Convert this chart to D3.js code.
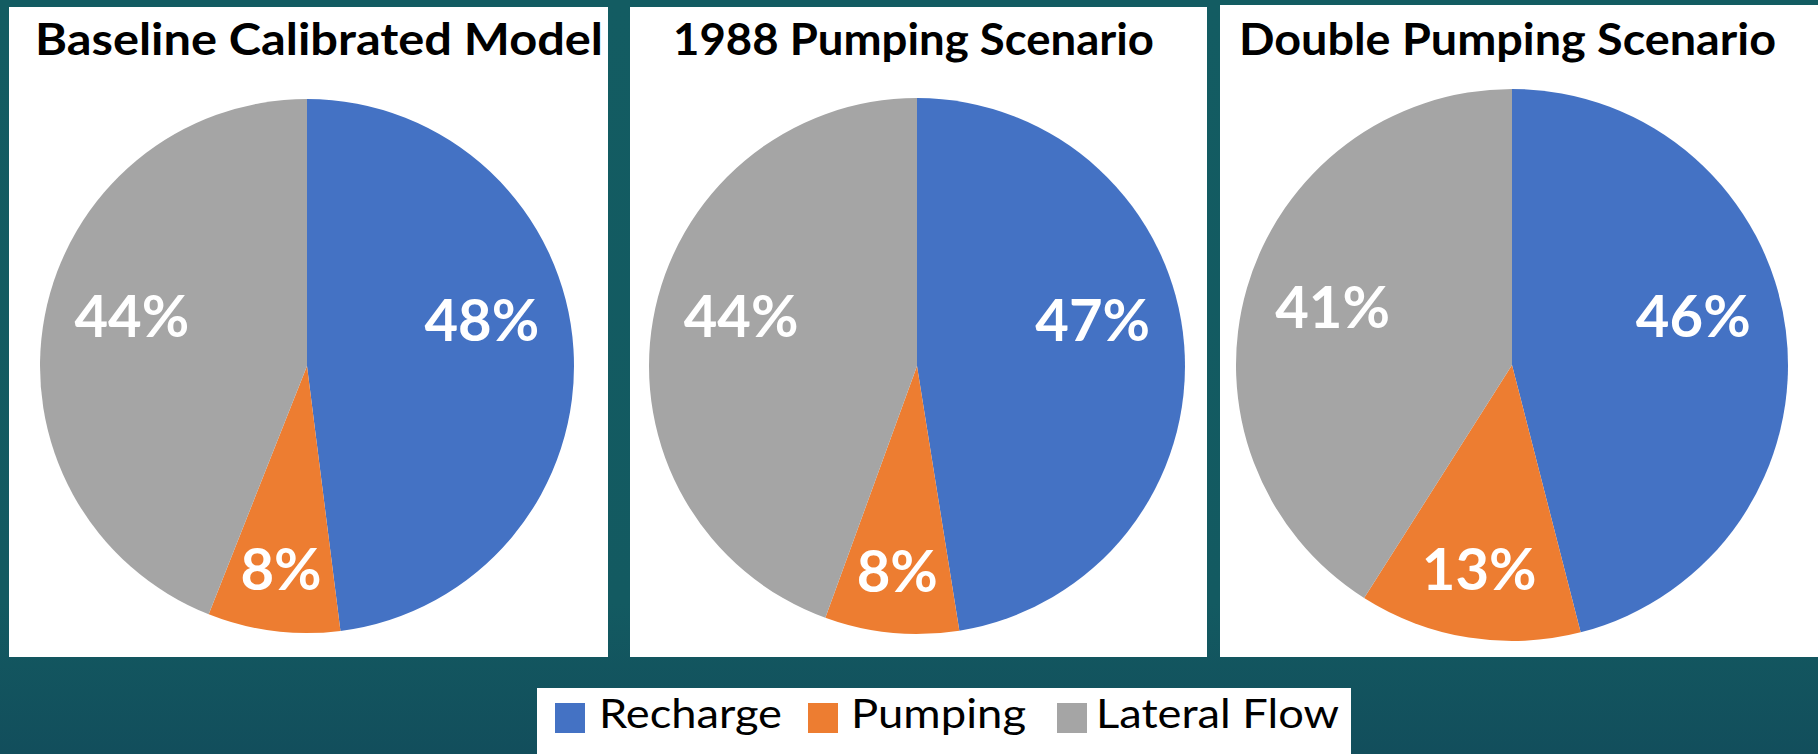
<!DOCTYPE html>
<html>
<head>
<meta charset="utf-8">
<script src="https://cdn.jsdelivr.net/npm/d3@7"></script>
<style>
  html, body { margin: 0; padding: 0; background: #135a61; }
  svg { display: block; }
</style>
</head>
<body>
<svg id="chart" width="1818" height="754"></svg>
<script>
// Water budget components, share of total (%)
const categories = ["Recharge", "Pumping", "Lateral Flow"];
const scenarios = ["Baseline Calibrated Model", "1988 Pumping Scenario", "Double Pumping Scenario"];
const baselineValues = [48, 8, 44];
const pumping1988Values = [47, 8, 44];
const doublePumpingValues = [46, 13, 41];
const seriesValues = [baselineValues, pumping1988Values, doublePumpingValues];

const colors = ["#4472c4", "#ed7d31", "#a5a5a5"];
const FONT = "Lato, 'Open Sans', sans-serif";

const svg = d3.select("#chart");
const W = 1818, H = 754;

// background: teal, slightly deeper toward the legend band
const defs = svg.append("defs");
const grad = defs.append("linearGradient").attr("id", "bg").attr("x1", 0).attr("y1", 0).attr("x2", 0).attr("y2", 1);
grad.append("stop").attr("offset", "0%").attr("stop-color", "#135c62");
grad.append("stop").attr("offset", "80%").attr("stop-color", "#135a61");
grad.append("stop").attr("offset", "100%").attr("stop-color", "#124e5c");
svg.append("rect").attr("width", W).attr("height", H).attr("fill", "url(#bg)");

// panel frames, one per scenario
const panels = [
  { x: 9,    y: 7, w: 599, h: 650, cx: 307,  cy: 366, r: 267, titleX: 35,   titleW: 568 },
  { x: 630,  y: 7, w: 577, h: 650, cx: 917,  cy: 366, r: 268, titleX: 673,  titleW: 481 },
  { x: 1220, y: 5, w: 598, h: 652, cx: 1512, cy: 365, r: 276, titleX: 1239, titleW: 537 }
];

const pie = d3.pie().sort(null).value(d => d);

panels.forEach((p, i) => {
  const g = svg.append("g");
  g.append("rect").attr("x", p.x).attr("y", p.y).attr("width", p.w).attr("height", p.h).attr("fill", "#ffffff");

  g.append("text")
    .attr("x", p.titleX).attr("y", 55)
    .attr("font-family", FONT).attr("font-weight", 700).attr("font-size", 44)
    .attr("fill", "#000")
    .attr("textLength", p.titleW).attr("lengthAdjust", "spacingAndGlyphs")
    .text(scenarios[i]);

  const values = seriesValues[i];
  const total = d3.sum(values);
  const arcs = pie(values);
  const arc = d3.arc().innerRadius(0).outerRadius(p.r);

  const pg = g.append("g").attr("transform", `translate(${p.cx},${p.cy})`);
  pg.selectAll("path.slice").data(arcs).join("path")
    .attr("class", "slice")
    .attr("d", arc)
    .attr("fill", (d, j) => colors[j]);

  // data labels: smaller slices sit further out, side labels lift toward the top
  pg.selectAll("text.lbl").data(arcs).join("text")
    .attr("class", "lbl")
    .each(function(d) {
      const frac = d.value / total;
      const mid = (d.startAngle + d.endAngle) / 2;
      const lr = p.r * (0.8 - 0.3 * frac);
      const s = Math.sin(mid), c = Math.cos(mid);
      const x = lr * s;
      const y = -lr * c * Math.abs(c) - 0.17 * p.r * s * s;
      d3.select(this).attr("x", x).attr("y", y);
    })
    .attr("dy", "0.36em")
    .attr("text-anchor", "middle")
    .attr("font-family", FONT).attr("font-weight", 700).attr("font-size", 58)
    .attr("fill", "#ffffff")
    .text(d => d.value + "%");
});

// legend
const legend = svg.append("g");
legend.append("rect").attr("x", 537).attr("y", 688).attr("width", 814).attr("height", 66).attr("fill", "#ffffff");
const legendItems = [
  { sx: 555,  tx: 599,  tw: 183 },
  { sx: 808,  tx: 851,  tw: 175 },
  { sx: 1057, tx: 1096, tw: 243 }
];
categories.forEach((name, j) => {
  const it = legendItems[j];
  legend.append("rect").attr("x", it.sx).attr("y", 703).attr("width", 30).attr("height", 30).attr("fill", colors[j]);
  legend.append("text")
    .attr("x", it.tx).attr("y", 728)
    .attr("font-family", FONT).attr("font-size", 40).attr("fill", "#000")
    .attr("textLength", it.tw).attr("lengthAdjust", "spacingAndGlyphs")
    .text(name);
});
</script>
</body>
</html>
